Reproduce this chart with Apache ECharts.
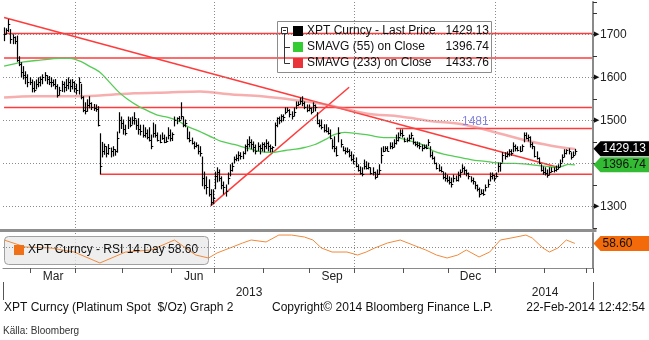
<!DOCTYPE html>
<html><head><meta charset="utf-8">
<script src="https://cdn.jsdelivr.net/npm/echarts@6/dist/echarts.min.js"></script>
<style>html,body{margin:0;padding:0;background:#fff}#c{width:649px;height:340px}</style>
</head><body><div id="c"></div>
<script>
// ---------- data ----------
const firstDay = '2013-02-12';
const slotCount = 277; // trading-day slots on the axis (data + empty tail)
const hi = [1716,1714,1735,1712,1700,1695,1697,1649,1635,1626,
1614,1607,1600,1595,1591,1595,1600,1602,1607,1612,
1605,1603,1600,1595,1596,1584,1578,1592,1590,1596,
1600,1595,1596,1591,1585,1600,1585,1556,1542,1549,
1556,1542,1538,1537,1533,1470,1450,1446,1440,1445,
1437,1440,1433,1474,1519,1509,1502,1490,1509,1507,
1509,1519,1502,1505,1490,1490,1484,1479,1484,1467,
1495,1491,1472,1467,1472,1467,1462,1484,1479,1472,
1509,1507,1510,1542,1509,1502,1484,1474,1460,1451,
1449,1444,1440,1416,1381,1370,1363,1340,1340,1381,
1391,1386,1370,1358,1351,1379,1398,1402,1416,1421,
1428,1426,1428,1444,1456,1463,1456,1451,1444,1449,
1444,1449,1449,1456,1451,1444,1440,1495,1507,1509,
1514,1514,1530,1530,1526,1521,1530,1544,1544,1553,
1556,1544,1537,1537,1530,1542,1537,1519,1502,1502,
1491,1491,1484,1479,1456,1463,1440,1484,1456,1440,
1437,1437,1433,1428,1421,1414,1398,1393,1391,1409,
1405,1402,1391,1391,1381,1386,1398,1437,1440,1440,
1440,1449,1449,1456,1467,1472,1479,1479,1460,1460,
1467,1472,1460,1451,1451,1449,1444,1444,1444,1456,
1440,1428,1416,1402,1398,1393,1381,1379,1374,1370,
1367,1374,1372,1381,1386,1398,1393,1386,1379,1370,
1367,1358,1351,1344,1340,1340,1351,1363,1379,1379,
1374,1379,1402,1402,1426,1426,1428,1433,1433,1449,
1444,1440,1440,1444,1472,1472,1467,1463,1449,1440,
1428,1414,1398,1393,1391,1386,1391,1391,1391,1395,
1398,1409,1421,1433,1433,1435,1426,1428,1434];
const lo = [1684,1700,1705,1678,1677,1677,1636,1626,1600,1595,
1584,1577,1582,1565,1565,1572,1577,1579,1584,1591,
1584,1582,1577,1579,1572,1553,1558,1566,1565,1568,
1572,1566,1572,1565,1560,1560,1549,1519,1514,1520,
1528,1524,1522,1520,1486,1375,1414,1420,1414,1420,
1414,1416,1418,1425,1470,1480,1467,1465,1480,1484,
1490,1490,1478,1467,1465,1460,1460,1456,1451,1433,
1460,1460,1451,1447,1455,1447,1448,1456,1451,1452,
1486,1491,1497,1502,1484,1484,1456,1449,1444,1433,
1437,1421,1416,1347,1340,1328,1323,1302,1305,1340,
1356,1358,1340,1328,1323,1351,1370,1381,1400,1405,
1405,1409,1410,1421,1428,1437,1433,1426,1421,1428,
1421,1428,1426,1433,1428,1426,1426,1440,1484,1491,
1495,1498,1514,1519,1507,1502,1509,1526,1533,1537,
1533,1526,1519,1521,1514,1519,1521,1491,1484,1479,
1472,1472,1467,1456,1433,1426,1416,1449,1437,1428,
1421,1424,1414,1405,1398,1391,1381,1374,1370,1386,
1386,1386,1374,1372,1363,1367,1374,1400,1426,1428,
1428,1433,1433,1437,1444,1451,1463,1460,1449,1449,
1451,1456,1444,1440,1437,1433,1428,1433,1433,1440,
1414,1409,1398,1386,1381,1379,1363,1358,1356,1351,
1344,1356,1358,1358,1367,1379,1374,1370,1363,1356,
1351,1340,1335,1321,1328,1325,1335,1344,1358,1363,
1358,1367,1379,1381,1402,1409,1414,1416,1418,1426,
1428,1428,1426,1428,1449,1456,1451,1437,1433,1414,
1409,1398,1381,1374,1372,1367,1372,1379,1379,1381,
1386,1391,1402,1414,1421,1421,1409,1414,1420];
const cl = [1700,1709,1725,1688,1693,1684,1640,1630,1612,1605,
1600,1590,1588,1575,1570,1585,1590,1595,1600,1605,
1595,1590,1588,1585,1580,1560,1570,1585,1578,1582,
1588,1580,1590,1575,1570,1590,1555,1525,1522,1535,
1540,1530,1528,1527,1490,1395,1430,1440,1425,1435,
1428,1433,1428,1460,1500,1495,1480,1470,1500,1490,
1500,1505,1490,1480,1475,1465,1470,1462,1455,1440,
1470,1465,1455,1450,1458,1450,1452,1465,1460,1468,
1500,1505,1500,1510,1490,1495,1460,1455,1448,1440,
1443,1430,1425,1365,1350,1345,1330,1310,1320,1370,
1380,1365,1350,1345,1335,1365,1385,1395,1410,1413,
1420,1418,1424,1440,1445,1450,1445,1438,1430,1440,
1435,1445,1440,1448,1440,1435,1438,1490,1505,1500,
1510,1508,1520,1525,1515,1510,1520,1535,1538,1545,
1540,1530,1525,1528,1520,1535,1530,1495,1490,1485,
1478,1475,1470,1460,1440,1435,1420,1470,1445,1432,
1428,1430,1420,1410,1405,1395,1385,1378,1375,1395,
1390,1392,1378,1380,1368,1375,1385,1420,1430,1435,
1430,1440,1438,1448,1455,1462,1470,1465,1452,1455,
1460,1465,1450,1445,1443,1440,1435,1438,1436,1450,
1420,1412,1400,1390,1385,1383,1368,1365,1362,1358,
1352,1365,1362,1372,1380,1390,1385,1378,1370,1362,
1360,1350,1340,1328,1332,1330,1345,1352,1370,1372,
1365,1370,1395,1400,1420,1418,1423,1428,1425,1440,
1435,1432,1430,1440,1465,1460,1462,1445,1440,1418,
1412,1400,1385,1380,1378,1372,1380,1382,1384,1388,
1392,1402,1415,1425,1432,1428,1415,1420,1429.13];
const sma55Idx = [0,8,17,26,31,36,40,45,50,54,58,63,68,72,77,82,86,92,98,102,108,113,118,123,127,132,137,141,146,151,155,160,165,170,174,179,184,188,193,198,202,207,212,216,221,226,230,235,240,246,251,255,259,262,265,268];
const sma55Val = [1626,1635,1640,1644,1644,1637,1626,1612,1586,1565,1549,1533,1521,1512,1507,1498,1486,1474,1460,1451,1444,1437,1430,1426,1426,1430,1433,1437,1444,1456,1467,1472,1470,1467,1463,1460,1460,1456,1449,1440,1428,1421,1416,1412,1407,1405,1402,1400,1400,1398,1395,1393,1391,1393,1398,1396.74];
const sma233Idx = [0,14,30,45,61,77,92,107,121,137,151,170,186,201,215,231,247,262,268];
const sma233Val = [1553,1556,1556,1558,1563,1565,1567,1560,1556,1547,1537,1516,1509,1498,1491,1472,1451,1437,1433.76];
const rsiIdx = [0,10,22,33,45,57,69,80,90,96,100,106,112,116,123,129,135,141,145,149,154,161,166,170,174,180,186,192,198,203,208,213,217,223,228,233,238,245,248,253,256,260,264,268];
const rsiVal = [64,53,51.4,45,27.9,45,48.3,64,40.4,35.7,43.6,51.4,59.3,64,60.9,71.8,71.8,68.7,64,51.4,45.1,45.1,40.4,45.1,51.4,59.3,64,56.1,48.3,40.4,35.7,40.4,48.3,37.3,45.1,64,67.1,71.8,67.1,51.4,45.1,51.4,64,58.6];
// horizontal resistance/support lines: [level, first index]
const hLevels = [1702, 1645, 1530, 1481, 1375];
const hStarts = [0, 0, 0, 184, 45];
const trendDown = [[0, 1739], [260, 1391]];
const trendUp = [[97, 1302], [162, 1577]];
const gridLevels = [1300, 1400, 1500, 1600, 1700];
const lastPrice = 1429.13, lastSma55 = 1396.74, lastSma233 = 1433.76, lastRsi = 58.60;
const legendNames = ['XPT Curncy - Last Price', 'SMAVG (55) on Close', 'SMAVG (233) on Close'];
const legendValues = ['1429.13', '1396.74', '1433.76'];
const monthNames = ['Jan','Feb','Mar','Apr','May','Jun','Jul','Aug','Sep','Oct','Nov','Dec'];

// ---------- categories ----------
function weekdays(start, n) {
  const out = []; const d = new Date(start + 'T00:00:00Z');
  while (out.length < n) { const w = d.getUTCDay(); if (w !== 0 && w !== 6) out.push(d.toISOString().slice(0, 10)); d.setUTCDate(d.getUTCDate() + 1); }
  return out;
}
const dates = weekdays(firstDay, slotCount);
const monthStart = dates.map((d, i) => i > 0 && d.slice(5, 7) !== dates[i - 1].slice(5, 7));
const dayInMonth = []; dates.forEach((d, i) => { dayInMonth.push(monthStart[i] || i === 0 ? 0 : dayInMonth[i - 1] + 1); });
const quarterStart = dates.map((d, i) => monthStart[i] && ['01','04','07','10'].includes(d.slice(5, 7)));
const labelAt = dates.map((d, i) => ['03','06','09','12'].includes(d.slice(5, 7)) && dayInMonth[i] === 10);
const yearFirst = dates.findIndex(d => d.slice(0, 4) === '2014');
const yearLabelIdx = [Math.round((yearFirst - 1) / 2), Math.round((yearFirst + slotCount - 1) / 2)];

const FONT = 'Liberation Sans, Arial, sans-serif';
const chart = echarts.init(document.getElementById('c'), null, { renderer: 'canvas' });

const lineSeries = (data, color, width, extra) => Object.assign({
  type: 'line', xAxisIndex: 0, yAxisIndex: 0, data, symbol: 'none', silent: true,
  lineStyle: { color, width }, z: 3
}, extra || {});

const series = [];
hLevels.forEach((lv, k) => series.push(lineSeries([[hStarts[k], lv], [slotCount - 1, lv]], '#ff3b3b', 1.5)));
series.push(lineSeries(trendDown, '#ff3b3b', 1.5));
series.push(lineSeries(trendUp, '#ff3b3b', 1.5));
series.push(lineSeries(sma233Idx.map((x, k) => [x, sma233Val[k]]), 'rgba(240,120,120,0.6)', 2.5, { smooth: 0.3 }));
series.push(lineSeries(sma55Idx.map((x, k) => [x, sma55Val[k]]), '#55cc55', 1.3, {
  smooth: 0.3,
  markLine: { silent: true, symbol: 'none', label: { show: false },
    lineStyle: { color: '#8a8a8a', type: [1, 2], width: 1 },
    data: gridLevels.map(v => ({ yAxis: v })) }
}));
series.push({
  type: 'custom', xAxisIndex: 0, yAxisIndex: 0, z: 5, silent: true,
  data: cl.map((c, i) => [i, hi[i], lo[i], c]),
  encode: { x: 0, y: [1, 2, 3] },
  renderItem: (params, api) => {
    const i = api.value(0);
    const pH = api.coord([i, api.value(1)]);
    const pL = api.coord([i, api.value(2)]);
    const pC = api.coord([i, api.value(3)]);
    const x = Math.round(pH[0]) + 0.5;
    return { type: 'group', children: [
      { type: 'line', shape: { x1: x, y1: pH[1], x2: x, y2: pL[1] }, style: { stroke: '#000', lineWidth: 1.2 } },
      { type: 'line', shape: { x1: x, y1: Math.round(pC[1]) + 0.5, x2: x + 1.8, y2: Math.round(pC[1]) + 0.5 }, style: { stroke: '#000', lineWidth: 1 } }
    ] };
  }
});
series.push({
  type: 'line', xAxisIndex: 1, yAxisIndex: 1, symbol: 'none', silent: true, z: 4,
  data: rsiIdx.map((x, k) => [x, rsiVal[k]]),
  lineStyle: { color: '#f08a3c', width: 1 },
  markLine: { silent: true, symbol: 'none', label: { show: false },
    lineStyle: { color: '#8a8a8a', type: [1, 2], width: 1 }, data: [{ yAxis: 52 }] }
});

const xBase = (gridIndex) => ({
  type: 'category', gridIndex, data: dates, boundaryGap: true,
  axisLine: { show: false }, axisTick: { show: false }, axisLabel: { show: false },
  splitLine: { show: true, interval: (i) => quarterStart[i], lineStyle: { color: '#8a8a8a', type: [1, 2], width: 1 } }
});

const option = {
  animation: false,
  textStyle: { fontFamily: FONT },
  grid: [
    { left: 3, right: 56, top: 2, height: 226 },
    { left: 3, right: 56, top: 233, height: 35 }
  ],
  xAxis: [
    xBase(0),
    Object.assign(xBase(1), {
      axisLine: { show: true, lineStyle: { color: '#8a8a8a', width: 1 } },
      axisTick: { show: true, interval: (i) => monthStart[i], length: 5, lineStyle: { color: '#555' } },
      axisLabel: { show: true, interval: (i) => labelAt[i], formatter: (v) => monthNames[+v.slice(5, 7) - 1], color: '#222', fontSize: 12, margin: 3 }
    }),
    { type: 'category', gridIndex: 1, data: dates, boundaryGap: true, position: 'bottom', offset: 14,
      axisLine: { show: false },
      axisTick: { show: true, interval: (i) => i === yearFirst, length: 18, lineStyle: { color: '#555' } },
      axisLabel: { show: true, interval: (i) => yearLabelIdx.includes(i), formatter: (v) => v.slice(0, 4), color: '#222', fontSize: 12, margin: 5 },
      splitLine: { show: false } }
  ],
  yAxis: [
    { type: 'value', gridIndex: 0, position: 'right', min: 1250, max: 1775, interval: 50,
      axisLine: { show: true, lineStyle: { color: '#8a8a8a', width: 2 } },
      axisTick: { show: true, length: 4, lineStyle: { color: '#333' } },
      splitLine: { show: false },
      axisLabel: { margin: 1, color: '#222', fontSize: 12,
        formatter: (v) => (v % 100 === 0 && v !== 1400) ? '{a|\u25B6}{b|' + v + '}' : '',
        rich: { a: { fontSize: 7, color: '#111', padding: [0, 1, 0, 0] }, b: { fontSize: 12, color: '#222' } } } },
    { type: 'value', gridIndex: 1, position: 'right', min: 20, max: 75,
      axisLine: { show: true, lineStyle: { color: '#8a8a8a', width: 2 } },
      axisTick: { show: false }, axisLabel: { show: false }, splitLine: { show: false } }
  ],
  series
};
chart.setOption(option);

// ---------- decorations positioned through the axes ----------
const yP = (v) => chart.convertToPixel({ yAxisIndex: 0 }, v);
const yR = (v) => chart.convertToPixel({ yAxisIndex: 1 }, v);
const ax = chart.convertToPixel({ xAxisIndex: 0 }, dates[slotCount - 1]) + 2.13 / 2 + 0.5;
function tag(yc, fill, textColor, text) {
  const h = 7.5;
  return [
    { type: 'polygon', z: 50, shape: { points: [[ax, yc], [ax + 7, yc - h], [649, yc - h], [649, yc + h], [ax + 7, yc + h]] }, style: { fill } },
    { type: 'text', z: 51, x: ax + 9, y: yc, style: { text, fill: textColor, font: '12px ' + FONT, verticalAlign: 'middle' } }
  ];
}
const yG = yP(lastSma55);
const yB = Math.min(yP(lastPrice), yG - 16);
const labelX = chart.convertToPixel({ xAxisIndex: 0 }, dates[215]);
const graphics = [
  { type: 'rect', z: 40, shape: { x: 0, y: 229, width: ax + 3, height: 3 }, style: { fill: '#8f8f8f' } },
  { type: 'text', z: 20, x: labelX, y: yP(1481) - 1, style: { text: '1481', fill: '#8585e0', font: '12px ' + FONT, verticalAlign: 'bottom' } },
  { type: 'rect', z: 30, shape: { x: 277.5, y: 21.5, width: 214, height: 51 }, style: { fill: 'rgba(255,255,255,0)', stroke: '#8c8c8c', lineWidth: 1 } },
  { type: 'rect', z: 31, shape: { x: 281.5, y: 27.5, width: 6, height: 6 }, style: { fill: '#fff', stroke: '#333', lineWidth: 1 } },
  { type: 'line', z: 31, shape: { x1: 283, y1: 30.5, x2: 286, y2: 30.5 }, style: { stroke: '#333', lineWidth: 1 } },
  { type: 'line', z: 31, shape: { x1: 284.5, y1: 34, x2: 284.5, y2: 63.5 }, style: { stroke: '#333', lineWidth: 1 } },
  { type: 'line', z: 31, shape: { x1: 284.5, y1: 47.5, x2: 290, y2: 47.5 }, style: { stroke: '#333', lineWidth: 1 } },
  { type: 'line', z: 31, shape: { x1: 284.5, y1: 63.5, x2: 290, y2: 63.5 }, style: { stroke: '#333', lineWidth: 1 } },
  { type: 'rect', z: 2, shape: { x: 4.5, y: 236.5, width: 204, height: 28, r: 4 }, style: { fill: 'rgba(232,232,232,0.75)', stroke: '#a0a0a0', lineWidth: 1 } },
  { type: 'rect', z: 31, shape: { x: 14, y: 245, width: 10, height: 10 }, style: { fill: '#f07018' } },
  { type: 'text', z: 31, x: 28, y: 250, style: { text: 'XPT Curncy - RSI 14 Day ' + lastRsi.toFixed(2), fill: '#111', font: '12px ' + FONT, verticalAlign: 'middle' } },
  { type: 'text', x: 4, y: 308, style: { text: 'XPT Curncy (Platinum Spot  $/Oz) Graph 2', fill: '#111', font: '12px ' + FONT, verticalAlign: 'middle' } },
  { type: 'text', x: 272, y: 308, style: { text: 'Copyright\u00A9 2014 Bloomberg Finance L.P.', fill: '#111', font: '12px ' + FONT, verticalAlign: 'middle' } },
  { type: 'text', x: 645, y: 308, style: { text: '22-Feb-2014 12:42:54', fill: '#111', font: '12px ' + FONT, verticalAlign: 'middle', align: 'right' } },
  { type: 'text', x: 3, y: 331, style: { text: 'K\u00E4lla: Bloomberg', fill: '#333', font: '10px ' + FONT, verticalAlign: 'middle' } }
];
const sqColors = ['#000000', '#33cc33', '#e8333a'];
legendNames.forEach((nm, k) => {
  const yc = 31 + k * 16;
  graphics.push({ type: 'rect', z: 31, shape: { x: 293, y: yc - 5, width: 10, height: 10 }, style: { fill: sqColors[k] } });
  graphics.push({ type: 'text', z: 31, x: 307, y: yc, style: { text: nm, fill: '#111', font: '12px ' + FONT, verticalAlign: 'middle' } });
  graphics.push({ type: 'text', z: 31, x: 489, y: yc, style: { text: legendValues[k], fill: '#111', font: '12px ' + FONT, verticalAlign: 'middle', align: 'right' } });
});
graphics.push(...tag(yG, '#33bb33', '#111', lastSma55.toFixed(2)));
graphics.push(...tag(yB, '#000000', '#ffffff', lastPrice.toFixed(2)));
graphics.push(...tag(yR(lastRsi), '#f26a0a', '#111', lastRsi.toFixed(2)));
chart.setOption({ graphic: graphics });
</script>
</body></html>
